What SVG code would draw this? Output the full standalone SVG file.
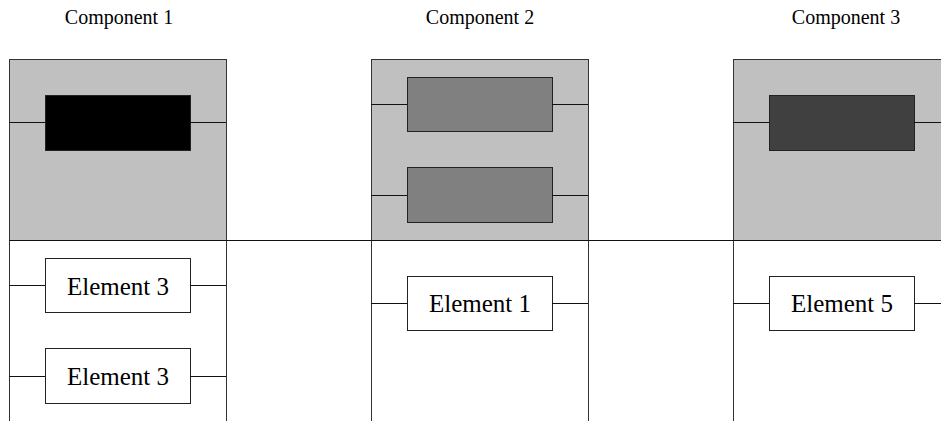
<svg xmlns="http://www.w3.org/2000/svg" width="941" height="421" viewBox="0 0 941 421">
<style>
.frame{fill:none;stroke:#333;stroke-width:1}
.top{fill:#c0c0c0;stroke:#333;stroke-width:1}
.box{stroke:#222;stroke-width:1}
.el{fill:#fff;stroke:#222;stroke-width:1}
.wire{stroke:#111;stroke-width:1;fill:none}
.lbl{font-family:"Liberation Serif",serif;font-size:20px;fill:#000;text-anchor:middle}
.etxt{font-family:"Liberation Serif",serif;font-size:25px;fill:#000;text-anchor:middle}
</style>
<rect width="941" height="421" fill="#fff"/>
<g id="component1">
<text class="lbl" x="119" y="24">Component 1</text>
<rect class="top" x="9.5" y="59.5" width="217" height="181"/>
<line class="frame" x1="9.5" y1="240" x2="9.5" y2="421"/>
<line class="frame" x1="226.5" y1="240" x2="226.5" y2="421"/>
</g>
<g id="c1-block"><rect class="box" x="45.5" y="95.5" width="145" height="55" fill="#000"/></g>
<g id="c1-element-a"><rect class="el" x="45.5" y="258.5" width="145" height="54"/><text class="etxt" x="118" y="295">Element 3</text></g>
<g id="c1-element-b"><rect class="el" x="45.5" y="348.5" width="145" height="55"/><text class="etxt" x="118" y="385">Element 3</text></g>
<g id="component2">
<text class="lbl" x="480" y="24">Component 2</text>
<rect class="top" x="371.5" y="59.5" width="217" height="181"/>
<line class="frame" x1="371.5" y1="240" x2="371.5" y2="421"/>
<line class="frame" x1="588.5" y1="240" x2="588.5" y2="421"/>
</g>
<g id="c2-block-a"><rect class="box" x="407.5" y="77.5" width="145" height="54" fill="#808080"/></g>
<g id="c2-block-b"><rect class="box" x="407.5" y="167.5" width="145" height="55" fill="#808080"/></g>
<g id="c2-element"><rect class="el" x="407.5" y="276.5" width="145" height="54"/><text class="etxt" x="480" y="312">Element 1</text></g>
<g id="component3">
<text class="lbl" x="846" y="24">Component 3</text>
<rect class="top" x="733.5" y="59.5" width="217" height="181"/>
<line class="frame" x1="733.5" y1="240" x2="733.5" y2="421"/>
</g>
<g id="c3-block"><rect class="box" x="769.5" y="95.5" width="145" height="55" fill="#404040"/></g>
<g id="c3-element"><rect class="el" x="769.5" y="276.5" width="145" height="54"/><text class="etxt" x="842" y="312">Element 5</text></g>
<g id="connectors">
<line class="wire" x1="9" y1="240.5" x2="941" y2="240.5"/>
<line class="wire" x1="9" y1="122.5" x2="45" y2="122.5"/>
<line class="wire" x1="190" y1="122.5" x2="226" y2="122.5"/>
<line class="wire" x1="371" y1="104.5" x2="407" y2="104.5"/>
<line class="wire" x1="552" y1="104.5" x2="588" y2="104.5"/>
<line class="wire" x1="371" y1="195.5" x2="407" y2="195.5"/>
<line class="wire" x1="552" y1="195.5" x2="588" y2="195.5"/>
<line class="wire" x1="733" y1="122.5" x2="769" y2="122.5"/>
<line class="wire" x1="914" y1="122.5" x2="941" y2="122.5"/>
<line class="wire" x1="9" y1="285.5" x2="45" y2="285.5"/>
<line class="wire" x1="190" y1="285.5" x2="226" y2="285.5"/>
<line class="wire" x1="9" y1="376.5" x2="45" y2="376.5"/>
<line class="wire" x1="190" y1="376.5" x2="226" y2="376.5"/>
<line class="wire" x1="371" y1="303.5" x2="407" y2="303.5"/>
<line class="wire" x1="552" y1="303.5" x2="588" y2="303.5"/>
<line class="wire" x1="733" y1="303.5" x2="769" y2="303.5"/>
<line class="wire" x1="914" y1="303.5" x2="941" y2="303.5"/>
</g>
</svg>
